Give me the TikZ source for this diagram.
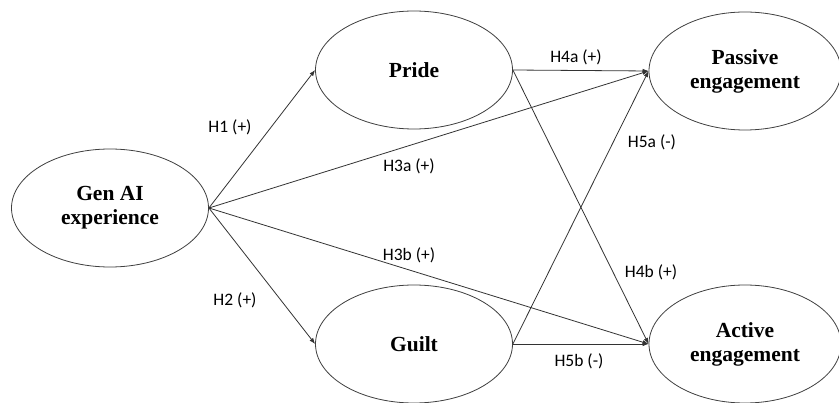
\documentclass[tikz,border=0pt]{standalone}
\usepackage{fontspec}
\setmainfont{Liberation Serif}
\newfontfamily\lblfont{Carlito}
\usetikzlibrary{shapes.geometric,arrows.meta}
\begin{document}
\begin{tikzpicture}[x=1pt,y=-1pt,
  construct/.style={ellipse,draw=black!75,line width=0.8pt,minimum width=197pt,minimum height=118pt,inner sep=0pt,align=center,font=\fontsize{21.5}{24}\selectfont\bfseries},
  path/.style={draw=black!80,line width=0.8pt,-{Latex[length=6pt,width=4.5pt]}},
  hyp/.style={font=\lblfont\fontsize{17.5}{19}\selectfont,inner sep=0pt}]
\useasboundingbox (0,0) rectangle (839,403);
\fill[white] (0,0) rectangle (839,403);
\node[construct] (gen) at (110,208) {Gen AI\\experience};
\node[construct] (pride) at (414,70) {Pride};
\node[construct] (guilt) at (414,344) {Guilt};
\node[construct,minimum width=192pt] (passive) at (745,71) {Passive\\engagement};
\node[construct,minimum width=192pt] (active) at (745,344) {Active\\engagement};
\draw[path] (gen.east) -- (pride.west);
\draw[path] (gen.east) -- (guilt.west);
\draw[path] (gen.east) -- (passive.west);
\draw[path] (gen.east) -- (active.west);
\draw[path] (pride.east) -- (passive.west);
\draw[path] (pride.east) -- (active.west);
\draw[path] (guilt.east) -- (passive.west);
\draw[path] (guilt.east) -- (active.west);
\node[hyp] (h1) at (230,127) {H1 (+)};
\node[hyp] (h2) at (235,300) {H2 (+)};
\node[hyp] (h3a) at (409,166) {H3a (+)};
\node[hyp] (h3b) at (409,255) {H3b (+)};
\node[hyp] (h4a) at (576,57) {H4a (+)};
\node[hyp] (h5a) at (652,142) {H5a (-)};
\node[hyp] (h4b) at (651,272) {H4b (+)};
\node[hyp] (h5b) at (579,361) {H5b (-)};
\end{tikzpicture}
\end{document}
